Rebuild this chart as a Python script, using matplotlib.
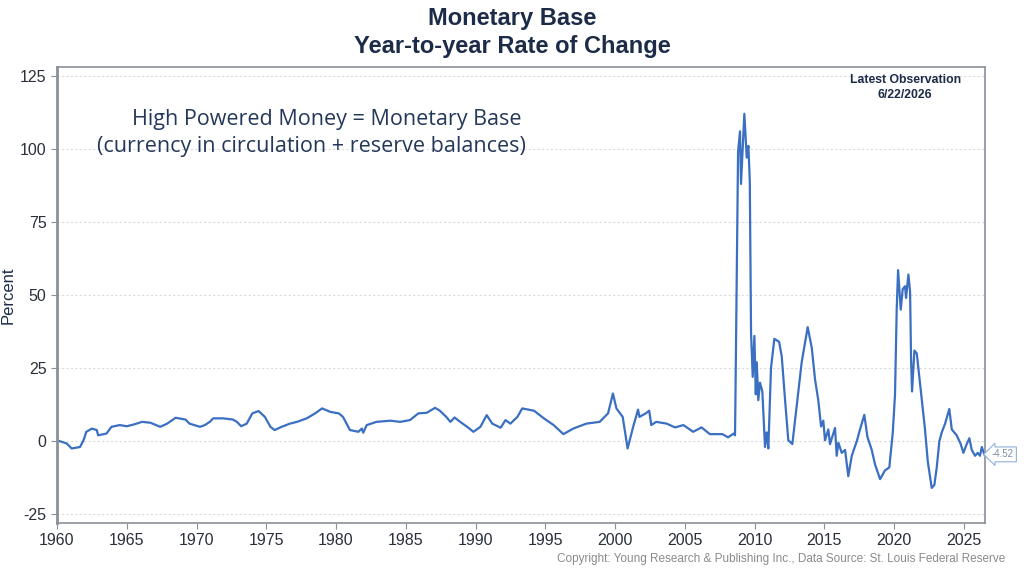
import matplotlib.pyplot as plt
import numpy as np

# year-over-year % change in the monetary base
years = [1960.0, 1960.7, 1961.05, 1961.3, 1961.65, 1961.9, 1962.1, 1962.5, 1962.85, 1962.95,
         1963.55, 1963.9, 1964.5, 1965.0, 1965.5, 1966.1, 1966.7, 1967.4, 1967.9, 1968.5,
         1969.2, 1969.5, 1970.25, 1970.6, 1970.95, 1971.2, 1971.9, 1972.6, 1972.9, 1973.2,
         1973.6, 1974.0, 1974.45, 1974.9, 1975.3, 1975.6, 1976.1, 1976.7, 1977.2, 1977.9,
         1978.5, 1979.0, 1979.6, 1980.2, 1980.5, 1981.0, 1981.6, 1981.85, 1981.95, 1982.2,
         1982.9, 1983.9, 1984.6, 1985.3, 1985.9, 1986.5, 1987.1, 1987.45, 1987.9, 1988.2,
         1988.5, 1988.9, 1989.4, 1989.85, 1990.35, 1990.8, 1991.2, 1991.8, 1992.15, 1992.5,
         1993.0, 1993.35, 1994.2, 1994.9, 1995.6, 1996.3, 1997.0, 1997.95, 1998.9, 1999.5,
         1999.85, 2000.1, 2000.55, 2000.9, 2001.3, 2001.65, 2001.75, 2002.2, 2002.45, 2002.6,
         2002.95, 2003.7, 2004.3, 2004.9, 2005.6, 2006.2, 2006.8, 2007.7, 2008.1, 2008.5,
         2008.6, 2008.62, 2008.68, 2008.75, 2008.82, 2008.96, 2009.03, 2009.27, 2009.44, 2009.56,
         2009.66, 2009.75, 2009.87, 2009.99, 2010.09, 2010.16, 2010.27, 2010.39, 2010.56, 2010.75,
         2010.87, 2010.99, 2011.18, 2011.42, 2011.76, 2011.95, 2012.19, 2012.42, 2012.71, 2013.02,
         2013.38, 2013.81, 2014.10, 2014.34, 2014.57, 2014.77, 2014.93, 2015.05, 2015.29, 2015.41,
         2015.77, 2015.89, 2016.01, 2016.25, 2016.49, 2016.72, 2016.97, 2017.33, 2017.56, 2017.87,
         2018.09, 2018.40, 2018.64, 2019.00, 2019.35, 2019.66, 2019.91, 2020.07, 2020.19, 2020.29,
         2020.38, 2020.48, 2020.62, 2020.79, 2020.86, 2021.03, 2021.15, 2021.22, 2021.29, 2021.46,
         2021.63, 2021.81, 2022.06, 2022.22, 2022.42, 2022.58, 2022.70, 2022.89, 2023.06, 2023.25,
         2023.42, 2023.66, 2023.96, 2024.14, 2024.49, 2024.78, 2024.97, 2025.21, 2025.40, 2025.57,
         2025.81, 2026.00, 2026.16, 2026.29, 2026.47]
pct = [0.3, -0.8, -2.5, -2.3, -2.0, 0.3, 3.2, 4.3, 3.8, 2.0,
       2.6, 4.9, 5.5, 5.1, 5.7, 6.6, 6.3, 4.9, 6.0, 8.0,
       7.4, 6.0, 4.9, 5.5, 6.6, 7.8, 7.8, 7.4, 6.6, 5.1,
       6.0, 9.5, 10.3, 8.3, 4.9, 3.8, 4.9, 6.0, 6.6, 7.8,
       9.5, 11.2, 10.0, 9.5, 8.3, 3.8, 3.2, 4.3, 2.9, 5.5,
       6.6, 7.0, 6.6, 7.2, 9.5, 9.7, 11.4, 10.4, 8.3, 6.6,
       8.1, 6.6, 4.9, 3.2, 4.9, 8.9, 6.0, 4.6, 7.2, 6.0,
       8.3, 11.2, 10.4, 7.8, 5.5, 2.4, 4.3, 6.0, 6.6, 9.5,
       16.3, 11.2, 8.3, -2.5, 4.9, 10.8, 8.3, 9.5, 10.4, 5.5,
       6.6, 6.0, 4.7, 5.5, 3.2, 4.7, 2.4, 2.4, 1.3, 2.6,
       2.0, 9.6, 37, 72, 99, 106, 88, 112, 97, 101,
       89, 37, 22, 36, 16, 27, 14, 20, 17, -2,
       3, -2.5, 25, 35, 34, 29, 14, 0.3, -1, 12,
       27, 39, 32, 21, 14, 5, 7, 0.3, 4, -1,
       4.5, -5, -0.5, -4, -3, -12, -5, 0, 4, 9,
       1.5, -3, -8, -13, -10, -9, 3, 16, 45, 58.5,
       52, 45, 52, 53, 49, 57, 51, 28, 17, 31,
       30, 22, 11, 4, -7, -12, -16, -15, -9, 0,
       3, 6, 11, 4, 2, -1, -4, -1, 1, -3,
       -5, -4, -5, -2, -4.52]

x_ticks = list(range(1960, 2030, 5))
y_ticks = [-25, 0, 25, 50, 75, 100, 125]
latest = "6/22/2026"

navy = '#1b2b48'
blue = '#3a6fc2'

plt.rcParams['font.family'] = ['Liberation Sans', 'DejaVu Sans']
plt.rcParams['axes.unicode_minus'] = False

fig = plt.figure(figsize=(10.24, 5.76), dpi=100)
ax = fig.add_axes([57/1024, 1 - 523/576, (985-57)/1024, (523-67)/576])

ax.plot(years, pct, color=blue, lw=1.6)

ax.set_xlim(1960, 2026.52)
ax.set_ylim(-28, 128)
ax.set_xticks(x_ticks)
ax.set_yticks(y_ticks)
ax.tick_params(axis='both', labelsize=11.5, colors='#8a9099', labelcolor='#2a2f3a',
               direction='out', length=4)
ax.grid(axis='y', linestyle=(0, (2, 2)), color='#d8dadd', lw=0.8)
for s in ax.spines.values():
    s.set_color('#8a9099')
    s.set_linewidth(1.2)
ax.spines['left'].set_linewidth(2)

ax.set_ylabel('Percent', fontsize=12, color=navy)
ax.yaxis.set_label_coords(-(57-16)/928, 0.5)

fig.text(0.5, 0.988, 'Monetary Base\nYear-to-year Rate of Change', ha='center', va='top',
         fontsize=17, fontweight='bold', color=navy, linespacing=1.3)

ax.text(0.914, 0.985, 'Latest Observation\n' + latest, transform=ax.transAxes,
        ha='center', va='top', fontsize=8.8, fontweight='bold', color=navy, linespacing=1.3)

note_font = ['Open Sans', 'DejaVu Sans']
ax.text(0.291, 0.884, 'High Powered Money = Monetary Base', transform=ax.transAxes,
        ha='center', va='center', fontsize=15.5, color='#24385a', family=note_font)
ax.text(0.274, 0.825, '(currency in circulation + reserve balances)', transform=ax.transAxes,
        ha='center', va='center', fontsize=15.5, color='#24385a', family=note_font)

ax.annotate('%.2f' % pct[-1], xy=(1.0, pct[-1]), xycoords=('axes fraction', 'data'),
            xytext=(5, 0), textcoords='offset points', ha='left', va='center',
            fontsize=7, color='#7f8ea3',
            bbox=dict(boxstyle='larrow,pad=0.25', fc='white', ec='#8fb0dc', lw=0.8),
            annotation_clip=False)

fig.text(0.982, 0.03, 'Copyright: Young Research & Publishing Inc., Data Source: St. Louis Federal Reserve',
         ha='right', va='center', fontsize=8.5, color='#8a8a8a')

fig.savefig('out.png', dpi=100)
